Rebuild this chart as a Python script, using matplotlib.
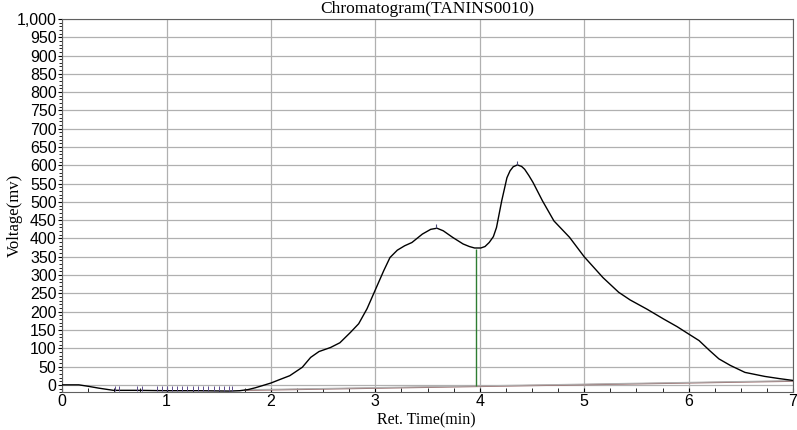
import matplotlib
matplotlib.use("Agg")
import matplotlib.pyplot as plt
from matplotlib.ticker import FuncFormatter, MultipleLocator

# chromatogram trace (min, mV)
ret_time = [0.0, 0.16, 0.25, 0.35, 0.49, 0.7, 1.0, 1.3, 1.6, 1.7, 1.78, 1.85, 1.92,
            2.0, 2.08, 2.18, 2.3, 2.38, 2.46, 2.57, 2.66, 2.76, 2.84, 2.92, 3.0,
            3.08, 3.14, 3.21, 3.28, 3.35, 3.45, 3.53, 3.59, 3.65, 3.74, 3.84, 3.9,
            3.95, 4.01, 4.05, 4.09, 4.13, 4.16, 4.21, 4.26, 4.29, 4.32, 4.36, 4.4,
            4.43, 4.47, 4.51, 4.6, 4.71, 4.86, 5.0, 5.18, 5.33, 5.44, 5.6, 5.76,
            5.89, 6.0, 6.1, 6.2, 6.29, 6.4, 6.54, 6.73, 6.87, 7.0]
voltage = [0, 0, -4, -9, -15, -15, -16, -16, -17, -16, -13, -8, -2,
           5, 14, 25, 48, 75, 91, 102, 115, 143, 167, 208, 260,
           312, 348, 368, 380, 389, 412, 425, 428, 421, 403, 385, 378,
           374, 374, 378, 389, 405, 430, 503, 566, 585, 596, 601, 597,
           589, 572, 553, 503, 448, 403, 350, 293, 253, 232, 207, 180,
           159, 139, 121, 94, 71, 53, 34, 23, 17, 12]

# peak markers and integration events
peak_times = [3.58, 4.36]
peak_heights = [430, 603]
split_time = 3.96
split_top = 372
event_times = [0.51, 0.54, 0.72, 0.76, 0.91, 0.96, 1.0, 1.05, 1.1, 1.15, 1.2,
               1.25, 1.3, 1.35, 1.4, 1.45, 1.5, 1.55, 1.6, 1.63]

# drawn baseline
base_x = [1.75, 7.0]
base_y = [-15, 10]

fig = plt.figure(figsize=(7.97, 4.30), dpi=100)
ax = fig.add_axes([0.078, 0.088, 0.917, 0.868])

ax.plot(ret_time, voltage, color="black", lw=1.0, zorder=3)
ax.plot(base_x, base_y, color="#9a7070", lw=1.0, zorder=2)
ax.plot(base_x, [y + 1.5 for y in base_y], color="#b0b0b0", lw=0.8, zorder=2)
split_base = base_y[0] + (split_time - base_x[0]) * (base_y[1] - base_y[0]) / (base_x[1] - base_x[0])
ax.vlines(split_time, split_base, split_top, color="#2e7d32", lw=1.0, zorder=2)
ax.vlines(peak_times, [h - 2 for h in peak_heights], [h + 10 for h in peak_heights],
          color="#4a4a7a", lw=0.8, zorder=4)
ax.vlines(event_times, -16, -4, color="#5a4a8a", lw=0.7, zorder=4)

ax.set_xlim(0, 7)
ax.set_ylim(-20, 1000)
ax.xaxis.set_major_locator(MultipleLocator(1))
ax.xaxis.set_minor_locator(MultipleLocator(0.25))
ax.yaxis.set_major_locator(MultipleLocator(50))
ax.yaxis.set_minor_locator(MultipleLocator(10))
ax.yaxis.set_major_formatter(FuncFormatter(lambda v, p: f"{int(v):,}"))
ax.grid(True, which="major", color="#b0b0b0", lw=0.9)
ax.set_axisbelow(True)

for lab in ax.get_xticklabels() + ax.get_yticklabels():
    lab.set_fontfamily("Liberation Sans")
    lab.set_fontsize(11.5)
ax.tick_params(axis="x", which="both", direction="in", length=3, pad=1)
ax.tick_params(axis="y", which="major", direction="out", length=3, pad=1)
ax.tick_params(axis="y", which="minor", direction="out", length=2)
for s in ax.spines.values():
    s.set_color("#606060")

ax.set_title("Chromatogram(TANINS0010)", family="Liberation Serif", fontsize=12.5, pad=4)
fig.text(0.535, 0.022, "Ret. Time(min)", family="Liberation Serif", fontsize=11.5,
         ha="center", va="center")
fig.text(0.018, 0.5, "Voltage(mv)", family="Liberation Serif", fontsize=12,
         ha="center", va="center", rotation=90)

fig.savefig("out.png", dpi=100)
